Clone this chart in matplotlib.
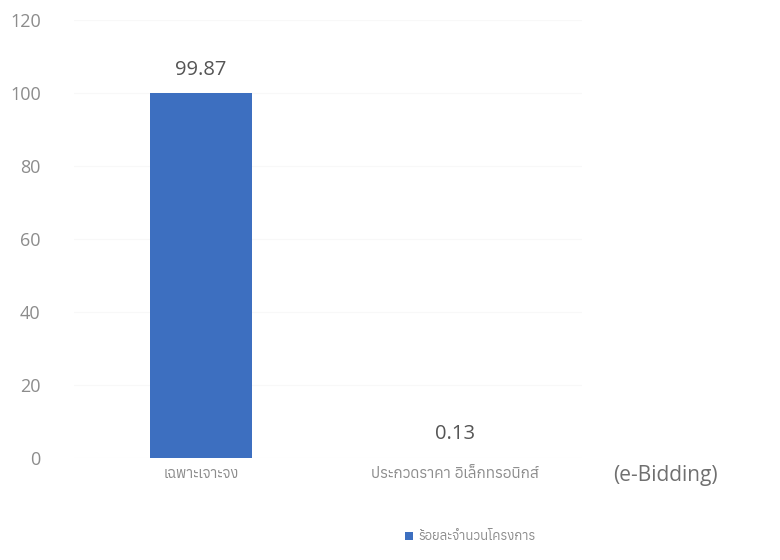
import matplotlib
matplotlib.use('Agg')
import matplotlib.pyplot as plt
from matplotlib import font_manager as fm
from matplotlib.ft2font import FT2Font

# find a font that can draw Thai
thai_fonts = []
for f in fm.fontManager.ttflist:
    try:
        if ord('ก') in FT2Font(f.fname).get_charmap():
            thai_fonts.append(f.name)
    except Exception:
        pass
thai_fonts = sorted(set(thai_fonts))

categories = ['เฉพาะเจาะจง', 'ประกวดราคา อิเล็กทรอนิกส์']
values = [99.87, 0.13]
series_name = 'ร้อยละจำนวนโครงการ'
yticks = [0, 20, 40, 60, 80, 100, 120]

plt.rcParams['font.family'] = ['Open Sans'] + thai_fonts[:1] + ['DejaVu Sans']

fig = plt.figure(figsize=(7.8, 5.6), dpi=100)
ax = fig.add_axes([74/780, 1 - 458/560, 508/780, 438/560])

x = range(len(categories))
bars = ax.bar(x, values, width=0.4, color='#3d6fc0', label=series_name, zorder=2)
for b, v in zip(bars, values):
    ax.text(b.get_x() + b.get_width() / 2, v + 6.5, f'{v:.2f}', ha='center', va='center',
            fontsize=14.5, color='#555555')

ax.set_ylim(0, 120)
ax.set_xlim(-0.5, 1.5)
ax.set_yticks(yticks)
ax.set_xticks([])
ax.tick_params(axis='y', length=0, labelsize=13, labelcolor='#8c8c8c', pad=24)
for s in ax.spines.values():
    s.set_visible(False)
ax.yaxis.grid(True, color='#f8f8f8', linewidth=0.8, zorder=0)

# category labels, placed below the axis
for i, c in enumerate(categories):
    ax.annotate(c, xy=(i, 0), xytext=(0, -16), textcoords='offset pixels',
                ha='center', va='center', fontsize=[10.5, 11][i], color='#8c8c8c')
fig.text(665/780, 1 - 475/560, '(e-Bidding)', ha='center', va='center', fontsize=15, color='#707070')

fig.legend(handles=[bars], labels=[series_name], loc='center', bbox_to_anchor=(470/780, 1 - 537/560),
           frameon=False, fontsize=9.5, handlelength=0.6, handleheight=0.6, handletextpad=0.4,
           labelcolor='#8c8c8c')

fig.savefig('out.png', dpi=100)
